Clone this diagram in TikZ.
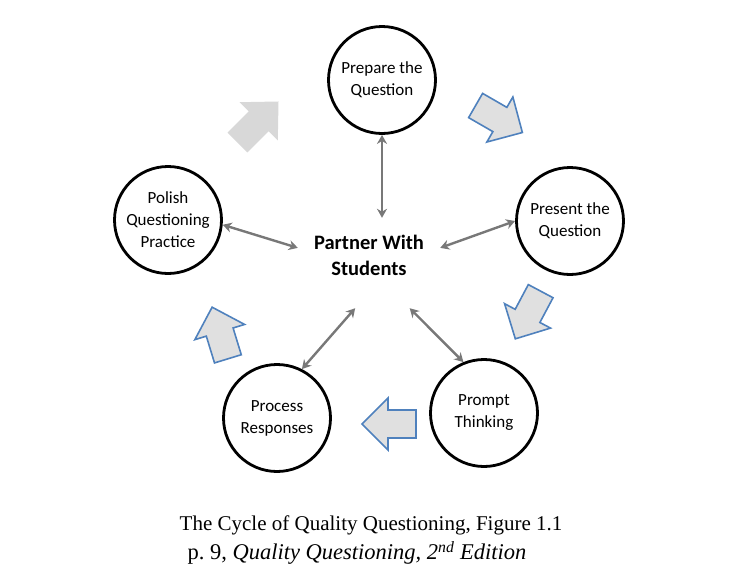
\documentclass[tikz,border=0pt]{standalone}
\usepackage{fontspec}
\setmainfont{Liberation Serif}
\newfontfamily\calibri{Carlito}
\usetikzlibrary{arrows.meta}

\definecolor{linkgray}{RGB}{120,120,120}
\definecolor{flowblue}{RGB}{79,129,189}
\definecolor{flowgray}{RGB}{224,224,224}
\definecolor{fadegray}{RGB}{216,216,216}

\tikzstyle{stage}=[circle, draw, line width=2.8pt, minimum size=107pt, inner sep=0pt, align=center, font=\calibri\fontsize{17}{22}\selectfont]
\tikzstyle{hub}=[minimum width=142pt, minimum height=90pt, inner sep=0pt]
\tikzstyle{hubtext}=[align=center, font=\calibri\bfseries\fontsize{20.5}{26}\selectfont]
\tikzstyle{dep}=[{Stealth[length=9pt,width=10pt]}-{Stealth[length=9pt,width=10pt]}, line width=2.4pt, draw=linkgray]
\tikzstyle{flow}=[fill=flowgray, draw=flowblue, line width=1.6pt]
\tikzstyle{faded}=[fill=fadegray]
\tikzstyle{caption}=[align=center, font=\fontsize{21}{28}\selectfont]

\begin{document}
\begin{tikzpicture}[x=1pt, y=-1pt]
  \useasboundingbox (0,0) rectangle (750,587);
  \node[stage] (prep) at (382,80) {Prepare the\\Question};
  \node[stage] (pres) at (570,221) {Present the\\Question};
  \node[stage] (prompt) at (484,413) {Prompt\\Thinking};
  \node[stage] (proc) at (277,418) {Process\\Responses};
  \node[stage] (polish) at (168,220) {Polish\\Questioning\\Practice};
  \node[hub, label={[hubtext, yshift=8pt]center:{Partner With\\Students}}] (partner) at (369,263) {};

  \draw[dep] (prep.south) to (prep.south |- partner.north);
  \draw[dep] (partner.12) to (pres.west);
  \draw[dep] (partner.-48) to (prompt.112);
  \draw[dep] (partner.-107) to (proc.63);
  \draw[dep] (partner.168) to (polish.-5);

  % cycle arrows
  \foreach \x/\y/\a in {499/119/-30, 528/315/242, 389/424/180, 220/333/107} {%
    \draw[flow, shift={(\x,\y)}, rotate=\a] (27,0) -- (1,26) -- (1,14) -- (-27,14) -- (-27,-14) -- (1,-14) -- (1,-26) -- cycle;
  }
  \fill[faded, shift={(258,122)}, rotate=45] (29,0) -- (1,27) -- (1,14) -- (-29,14) -- (-29,-14) -- (1,-14) -- (1,-27) -- cycle;

  \node[caption] (title) at (371,525) {The Cycle of Quality Questioning, Figure 1.1};
  \node[caption, font=\fontsize{22.5}{28}\selectfont] (source) at (357,553) {p.~9, \textit{Quality Questioning, 2\textsuperscript{nd} Edition}};
\end{tikzpicture}
\end{document}
